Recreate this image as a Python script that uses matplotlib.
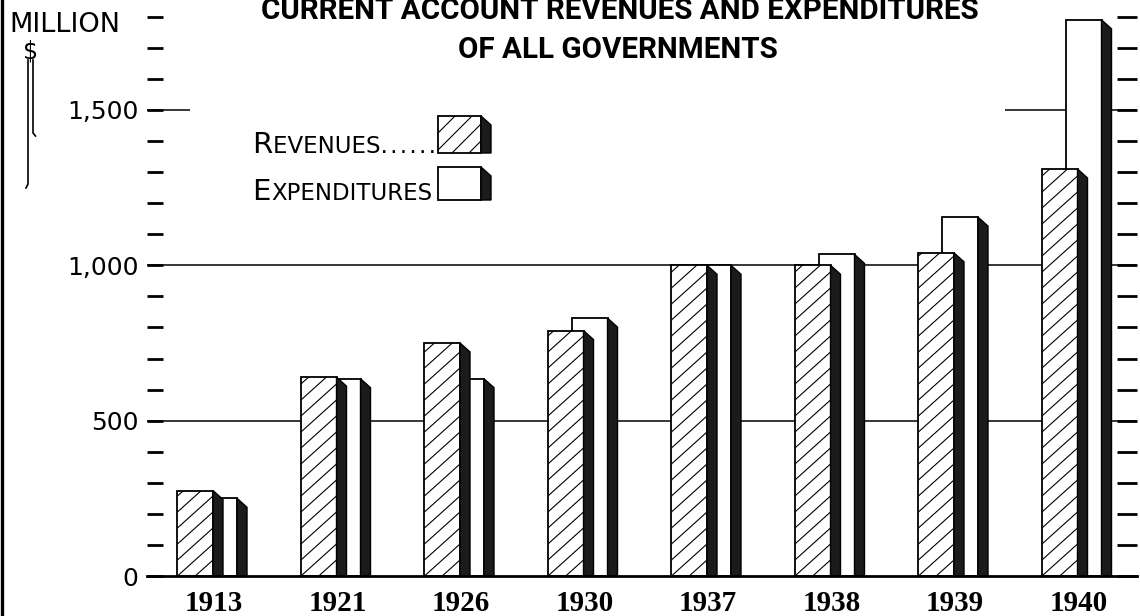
import matplotlib
matplotlib.use('Agg')
import matplotlib.pyplot as plt
from matplotlib.patches import Rectangle, Polygon
from matplotlib.collections import LineCollection
from matplotlib.ticker import MultipleLocator
import numpy as np

# ---------------- data ----------------
years = ['1913', '1921', '1926', '1930', '1937', '1938', '1939', '1940']
revenues = [275, 640, 750, 790, 1000, 1000, 1040, 1310]
expenditures = [250, 635, 635, 830, 1000, 1035, 1155, 1790]
y_major = [0, 500, 1000, 1500]
y_major_labels = ['0', '500', '1,000', '1,500']
title_line1 = 'CURRENT ACCOUNT REVENUES AND EXPENDITURES'
title_line2 = 'OF ALL GOVERNMENTS'
legend_rev = ('R', 'EVENUES' + '\u200a'.join('......'))
legend_exp = ('E', 'XPENDITURES')

# ---------------- layout (pixels) ----------------
W_PX, H_PX, DPI = 1140, 616, 100
AX_L, AX_R, AX_B, AX_T = 147, 1137, 576, 0
FIRST_PX = 177        # left edge of first revenue bar
GROUP_PX = 123.5      # spacing between year groups
Y_PX = 0.3107         # pixels per million $
BAR_W_PX = 36
EXP_OFF_PX = 24
SIDE_PX = 10
DROP_PX = 9
LABEL_OFF_PX = 37

DARK = '#1b1b1b'
LETTER = 'DejaVu Sans'
TITLE_FONT = ['Roboto', 'DejaVu Sans']

fig = plt.figure(figsize=(W_PX / DPI, H_PX / DPI), dpi=DPI)
fig.patch.set_facecolor('white')

ax = fig.add_axes([AX_L / W_PX, (H_PX - AX_B) / H_PX,
                   (AX_R - AX_L) / W_PX, (AX_B - AX_T) / H_PX])
xmin = (AX_L - FIRST_PX) / GROUP_PX
xmax = (AX_R - FIRST_PX) / GROUP_PX
ymax = (AX_B - AX_T) / Y_PX
ax.set_xlim(xmin, xmax)
ax.set_ylim(0, ymax)


def draw_block(a, x0, w, y0, y1, sx, sy, hatched, z,
               slope=0.9, spacing_px=16):
    """Front face + dark oblique right side. sx, sy = screen px per data unit
    (sy negative for an inverted axis)."""
    front = Rectangle((x0, y0), w, y1 - y0, facecolor='white',
                      edgecolor='black', linewidth=1.3, zorder=z)
    a.add_patch(front)
    dx = SIDE_PX / sx
    dy = DROP_PX / sy
    side = Polygon([(x0 + w, y1), (x0 + w + dx, y1 - dy),
                    (x0 + w + dx, y0), (x0 + w, y0)], closed=True,
                   facecolor=DARK, edgecolor='black', linewidth=1.0,
                   zorder=z)
    a.add_patch(side)
    if hatched:
        m = slope * sx / sy
        step = spacing_px / abs(sy)
        lo = min(y0, y1) - max(0, m * w) - step
        hi = max(y0, y1) - min(0, m * w) + step
        cs = np.arange(lo, hi, step)
        segs = [[(x0, c), (x0 + w, c + m * w)] for c in cs]
        lc = LineCollection(segs, colors='black', linewidths=0.8,
                            zorder=z + 0.1)
        a.add_collection(lc)
        lc.set_clip_path(front)


n = len(years)
W = BAR_W_PX / GROUP_PX
O = EXP_OFF_PX / GROUP_PX
for i in range(n):
    draw_block(ax, i + O, W, 0, expenditures[i], GROUP_PX, Y_PX, False, 3)
    draw_block(ax, i, W, 0, revenues[i], GROUP_PX, Y_PX, True, 4)

# grid lines
ax.hlines([500, 1000], xmin, xmax, color='black', linewidth=1.1, zorder=1)
ax.hlines(1500, xmin, (190 - FIRST_PX) / GROUP_PX, color='black',
          linewidth=1.1, zorder=1)
ax.hlines(1500, (1005 - FIRST_PX) / GROUP_PX, xmax, color='black',
          linewidth=1.1, zorder=1)

# spines
for s in ['left', 'right', 'top']:
    ax.spines[s].set_visible(False)
ax.spines['bottom'].set_linewidth(2.0)
ax.spines['bottom'].set_zorder(6)

# x labels
ax.set_xticks(np.arange(n) + LABEL_OFF_PX / GROUP_PX)
ax.set_xticklabels(years, fontfamily='Liberation Serif', fontsize=21,
                   fontweight='bold')
ax.tick_params(axis='x', length=0, pad=10)

# y ticks left
ax.set_yticks(y_major)
ax.set_yticklabels(y_major_labels, fontfamily='DejaVu Sans', fontsize=18)
ax.yaxis.set_minor_locator(MultipleLocator(100))
ax.tick_params(axis='y', which='both', direction='in', length=11.5,
               width=2.0, pad=6)

# y ticks right
ax2 = ax.twinx()
ax2.set_ylim(0, ymax)
ax2.yaxis.set_major_locator(MultipleLocator(100))
ax2.tick_params(axis='y', direction='in', length=14.4, width=2.0,
                labelright=False)
for s in ax2.spines.values():
    s.set_visible(False)

# ---------------- overlay in pixel coordinates ----------------
ov = fig.add_axes([0, 0, 1, 1])
ov.set_xlim(0, W_PX)
ov.set_ylim(H_PX, 0)
ov.axis('off')
ov.patch.set_alpha(0)

renderer = fig.canvas.get_renderer()

ov.plot([2, 2], [0, H_PX], color='black', linewidth=2.4)

t1 = ov.text(620, 19, title_line1, ha='center', va='baseline',
             fontsize=24, fontfamily=TITLE_FONT, fontweight='bold')
w1 = t1.get_window_extent(renderer).width
fs = 24 * 720.0 / w1
t1.set_fontsize(fs)
ov.text(618, 58, title_line2, ha='center', va='baseline', fontsize=fs,
        fontfamily=TITLE_FONT, fontweight='bold')

ov.text(9, 32, 'MILLION', ha='left', va='baseline', fontsize=19.5,
        fontfamily=LETTER)
ov.text(31, 59, '$', ha='center', va='baseline', fontsize=17,
        fontfamily=LETTER)
ov.plot([33, 33, 35.5], [60, 133, 136], color='black', linewidth=1.2)
ov.plot([28, 28, 26], [60, 184, 188], color='black', linewidth=1.2)


def small_caps(x, y, pair):
    t = ov.text(x, y, pair[0], ha='left', va='baseline', fontsize=21,
                fontfamily=LETTER)
    bb = t.get_window_extent(renderer)
    ov.text(x + bb.width + 0.5, y, pair[1], ha='left', va='baseline',
            fontsize=16.5, fontfamily=LETTER)


small_caps(252, 153, legend_rev)
small_caps(252, 200, legend_exp)
draw_block(ov, 438, 43, 153, 116, 1, -1, True, 3, slope=1.0, spacing_px=17)
draw_block(ov, 438, 43, 200, 167, 1, -1, False, 3)

fig.savefig('out.png', dpi=DPI, facecolor='white')
